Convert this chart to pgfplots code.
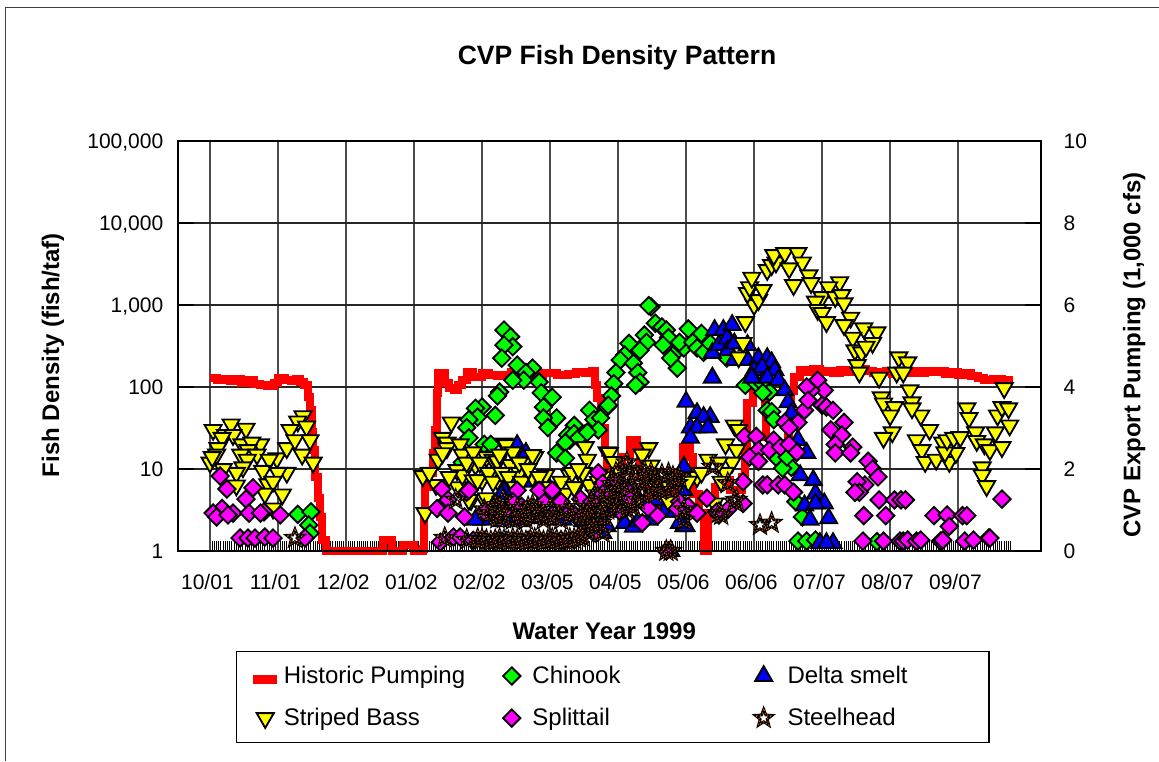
\documentclass[border=0pt]{standalone}
\usepackage{fontspec}
\setmainfont{Liberation Sans}
\usepackage{pgfplots}
\pgfplotsset{compat=1.18}
\usetikzlibrary{plotmarks}
% 1 px of the reference = 0.75pt
\definecolor{xlgreen}{RGB}{0,255,0}
\definecolor{xlblue}{RGB}{0,0,255}
\definecolor{xlyellow}{RGB}{255,255,0}
\definecolor{xlpink}{RGB}{255,0,255}
\definecolor{xlbrown}{RGB}{225,95,10}
\newcommand{\starpath}{%
  \pgfpathmoveto{\pgfqpointpolar{90}{6.6pt}}%
  \pgfpathlineto{\pgfqpointpolar{126}{2.8pt}}%
  \pgfpathlineto{\pgfqpointpolar{162}{6.6pt}}%
  \pgfpathlineto{\pgfqpointpolar{198}{2.8pt}}%
  \pgfpathlineto{\pgfqpointpolar{234}{6.6pt}}%
  \pgfpathlineto{\pgfqpointpolar{270}{2.8pt}}%
  \pgfpathlineto{\pgfqpointpolar{306}{6.6pt}}%
  \pgfpathlineto{\pgfqpointpolar{342}{2.8pt}}%
  \pgfpathlineto{\pgfqpointpolar{18}{6.6pt}}%
  \pgfpathlineto{\pgfqpointpolar{54}{2.8pt}}%
  \pgfpathclose}
\pgfdeclareplotmark{xlstar}{%
  \pgfscope
  \pgfsetdash{}{0pt}\pgfsetlinewidth{2.1pt}\pgfsetstrokecolor{black}%
  \starpath\pgfusepathqstroke
  \endpgfscope
  \pgfscope
  \pgfsetlinewidth{0.7pt}\pgfsetstrokecolor{xlbrown}%
  \pgfsetdash{{0.9pt}{1.6pt}}{0pt}%
  \starpath\pgfusepathqstroke
  \endpgfscope}
\newcommand{\tickfont}{\fontsize{15.75}{18}\selectfont}
\newcommand{\labfont}{\fontsize{18}{22}\selectfont\bfseries}
\pgfplotsset{
  common/.style={
    scale only axis, width=647.25pt, height=307.5pt, at={(133.5pt,157.5pt)}, anchor=south west,
    xmin=-14.6, xmax=378.8, clip=false,
    axis line style={line width=0.9pt},
    tick label style={font=\tickfont},
  },
  bass/.style={only marks, mark=triangle*, mark size=7.4pt,
    mark options={fill=xlyellow, draw=black, line width=1.4pt, rotate=180}},
  smelt/.style={only marks, mark=triangle*, mark size=7.4pt,
    mark options={fill=xlblue, draw=black, line width=1.4pt}},
  chin/.style={only marks, mark=square*, mark size=4.6pt,
    mark options={fill=xlgreen, draw=black, line width=1.4pt, rotate=45}},
  split/.style={only marks, mark=square*, mark size=4.6pt,
    mark options={fill=xlpink, draw=black, line width=1.4pt, rotate=45}},
  steel/.style={only marks, mark=xlstar},
}
\begin{document}
\begin{tikzpicture}
\path[use as bounding box] (0,0) rectangle (869.25pt,570.75pt);
\draw[line width=0.8pt, black!75] (4.1pt,0pt) -- (4.1pt,565.4pt) -- (869.25pt,565.4pt);

% right axis: pumping, grid and the daily ticks
\begin{axis}[common,
  ymin=0, ymax=10,
  xtick={0,31,...,341},
  xticklabels={10/01,11/01,12/02,01/02,02/02,03/05,04/05,05/06,06/06,07/07,08/07,09/07},
  minor xtick={0,1,...,365},
  xtick pos=bottom,
  tick align=inside,
  major tick length=12pt,
  minor tick length=7.5pt,
  minor x tick style={black, line width=0.75pt},
  y tick style={black, line width=0.9pt},
  x tick style={black!70, line width=0.9pt},
  xticklabel style={yshift=-14pt, xshift=-2pt},
  grid=major,
  x grid style={black!70, line width=0.9pt},
  y grid style={black!85, line width=0.8pt},
  ytick={0,2,4,6,8,10},
  yticklabels={0,2,4,6,8,10},
  yticklabel pos=right,
  yticklabel style={xshift=13.5pt, text height=11.3pt, text depth=0pt},
  ylabel={CVP Export Pumping (1,000 cfs)},
  ylabel style={font=\labfont, at={(axis description cs:1.108,0.478)}, anchor=center, rotate=0},
]
\addplot[red, line width=6pt, const plot, line join=miter] table {
0 4.22
3 4.16
6 4.2
9 4.14
11 4.2
14 4.1
17 4.16
20 4.08
23 4.04
26 4.02
29 4.1
31 4.22
34 4.18
37 4.14
39 4.2
41 4.12
43 4.06
44.5 3.76
45.5 3.44
46.5 2.9
47 2.46
48 1.8
49 1.3
50 0.83
51 0.27
53 0
60 0
70 0
78 0
79 0.27
83 0
88 0.15
93 0
97 0.05
97.5 0.93
98 1.56
100 1.9
101.6 2.4
102.5 2.95
103.5 3.85
104 4.34
106 4.34
107 4.1
109 3.98
111 3.93
113 4.05
115 4.17
117 4.37
120 4.24
124 4.34
127 4.3
131 4.26
134 4.3
137 4.36
142 4.28
147 4.3
152 4.34
158 4.3
163 4.32
167 4.37
171 4.34
174 4.4
175.5 4.05
176.5 3.73
178 3.0
180 2.4
181 1.9
184 1.44
186 1.5
188 2.3
191.5 2.7
194.6 2.54
196 1.8
199 1.2
203 1.0
207 1.0
208 1.4
210 1.56
212 1.2
213 1.6
215.6 2.54
219 2.3
220 1.4
223 0.93
225 0
226 0
227 0.93
230 1.56
231.6 1.73
237 1.49
242.5 1.8
244 2.54
245 3.6
247.6 3.85
252 3.85
253 3.6
253.5 2.78
256.6 2.63
263.5 2.78
264 3.27
265 3.9
266 4.24
269 4.41
272 4.36
275 4.43
278 4.36
281 4.4
284 4.34
287 4.42
290 4.36
293 4.4
296 4.44
299 4.38
302 4.34
305 4.36
308 4.38
311 4.32
314 4.36
317 4.34
320 4.38
323 4.34
326 4.4
329 4.36
332 4.38
335 4.32
338 4.36
341 4.3
344 4.34
347 4.26
350 4.22
353 4.18
357 4.2
361 4.16
364 4.14
366 4.14
};
\end{axis}

% left axis: fish densities
\begin{axis}[common,
  ymode=log, ymin=1, ymax=100000,
  xtick=\empty,
  ytick={1,10,100,1000,10000,100000},
  yticklabels={1,10,100,{1,000},{10,000},{100,000}},
  major tick length=0pt,
  minor tick length=0pt,
  yminorticks=false,
  yticklabel style={xshift=-7.5pt, text height=11.3pt, text depth=0pt},
  title={CVP Fish Density Pattern},
  title style={font=\fontsize{19.9}{24}\selectfont\bfseries, at={(axis description cs:0.5087,1.183)}, anchor=center},
  xlabel={Water Year 1999},
  xlabel style={font=\labfont, at={(axis description cs:0.494,-0.195)}, anchor=center},
  ylabel={Fish Density (fish/taf)},
  ylabel style={font=\labfont, at={(axis description cs:-0.1448,0.478)}, anchor=center, rotate=0},
  legend columns=3,
  legend cell align=left,
  legend style={at={(axis description cs:0.0672,-0.244)}, anchor=north west,
    draw=black, line width=0.9pt, font=\fontsize{18}{21}\selectfont,
    inner xsep=12.5pt, inner ysep=9pt, row sep=13pt},
]
\addlegendimage{legend image code/.code={\fill[red] (0pt,-5.5pt) rectangle (17pt,0.5pt);}}
\addlegendentry{\hspace{3pt}\makebox[162.5pt][l]{Historic Pumping}}

\addplot[chin] table {
40 2.8
46 3
45 2.07
45.6 1.65
134 495
137 410
138 310
134 325
133 225
140 185
147 170
144 150
143 121
138 121
150 115
151 85
156 75
152 57
158 42
152 42
154 32
132 87
131 78
130 45
124 57
121 55
122 43
118 40
117 32
118 24
115 12
125 20
128 20
166 34
163 26
164 22.5
162 21
158 15.7
162 13.5
166 27
171 27
168 24
173 52
175 40
178 42
181 57
177 30
172 28
201 950
200 980
203 600
206 540
208 495
209 400
206.5 325
211 245
213 170
210 225
216 300
218 510
214 350
220 350
222 300
224 450
225 265
228 340
235.6 225
198 430
199 350
196 280
191 340
189 245
187 213
193 195
195 150
185 150
196 115
194 105
184 110
183 78
181.5 60
244 105
254 91
249 110
252 110
254 52
255 87
252 85
256 50
257 40
265 10.5
261 10.2
258 14
263 14
267 4
270 2.6
268 1.32
272 1.32
276 1.36
304 1.3
};
\addlegendentry{\hspace{7pt}\makebox[165pt][l]{Chinook}}

\addplot[smelt] table {
229 130
217 66
222 48
228 43
225 43
219 32
222 32
227 32
219 24
230 495
234 495
238 570
229 260
232 325
235.6 390
236 280
239 340
245 325
239 213
245 213
250 225
254 225
256 200
248 160
251.6 175
257.5 160
247 130
254 130
259 121
262 91
263.5 65
265 48
268 22.5
272 15.7
269 8.4
275 7.3
276 5
280 3.8
271 3.6
276 3.8
273.5 2.4
282 2.5
278 1.25
284 1.25
281 1.25
140 19.6
144 15.7
134 5.5
124 2.4
121 2.4
133 4.9
138 7.5
144 7
133 2.3
161 2.4
216 10.6
216 5.5
216 2
203 4.2
200 2.4
189 2.2
193 1.97
179 1.66
210 1
217 2
153 7
183 3
130 3
135 2.6
142 2.3
150 2.5
155 2.6
158 2.4
170 2.3
175 2.2
181 2
185 3
195 2.3
205 5
207 3
212 3
214 2.2
196 4
};
\addlegendentry{\hspace{9.5pt}\makebox[136.5pt][l]{Delta smelt}}

\addplot[bass] table {
1.4 30
9.6 35
16.4 31
7 26
10.5 26
5.5 24
3.6 18
14.6 20
23 20
19 21
17.3 17
0 12
3 15
1 14
14 15
21.4 15
17 13
15 10.5
30.5 13.5
27 13
35 18
24 9.5
35 9
31 9
12 9
6 10
26.4 6.5
28.7 7
12 6.3
25 5
33 4.9
28.7 3.3
42.4 44
40 38
44 33
36.5 30
38.7 22.5
45.6 22.5
42 15
47 12
110 37
106 24
108 21
108 18
104 13
106 15.6
114 20
115 15
97 8.2
98 2.9
103 6.4
112.6 9.7
113 6
115 8.4
121 11.2
120 7.3
124 7.3
119 4.2
125 4.2
126 14
129 13
131 7.3
128.5 9
134 20.5
131 12
137 11.2
139 16
143 12
141 9
148 14
153 8.4
147 8
164 8.4
169 8.4
167 6
171 18.5
172 13
181 16
173 6.4
181 5
135 19.6
138 16
147 14.8
131 12.4
141 12
118 11.8
122 7.3
126 4.4
118 4.2
182 15.7
184 12.2
165 9
170 9
200 18
197 15
201 11
222 8
227 13
235 20
240 17
239 34
241 30
230 3.8
238 12
235 9
100 9
109 8
117 12
120 16
123 12
127 9
129 7
132 15
133 9
136 8
139 6
142 7
145 10
150 8
152 6
155 6
158 5
160 7
162 5
166 6
168 10
175 4
177 7
179 8
180 4
185 6
187 9
190 5
192 5
194 4
203 6
206 6
209 4
212 8
218 7
224 9
232 12
233 7
244 620
243 345
241 230
248 1000
250 1150
245 1400
246 1650
252 1520
247 2150
254 2670
256 3070
258 3300
257 4060
262 4300
268 4300
270 3300
264 2800
266 1750
273 2300
274 1850
287 1900
282 1650
279 1250
285 1250
288 1320
289 1050
276 1100
277 870
279 800
281 620
292 700
289 570
298 520
304 465
293 400
302 345
294 280
297 265
299 310
295 185
296 150
305 130
314 230
318 200
313 150
316 150
306 75
307 63
312 57
310 45
311 28
307 24
319 91
320 65
324 45
320 55
328 30
322 22.5
324.5 17
326 12.2
331 13
334 21
337 12.2
340 15.7
335 16
336 22.5
339 24
342 24.5
345 55
346 42
349 28
349.5 22
353 20
352 10.5
352 8.4
354 6.2
358 28
355.5 17
361 18.5
359 45
361 57
364 55
364.5 34
362 97
};
\addlegendentry{\hspace{3pt}Striped Bass}

\addplot[split] table {
4.6 8.2
7.7 5.7
19.6 5.9
16.4 4.3
5.5 3.3
1.4 2.9
3 2.6
10.5 2.9
8.2 2.75
17.8 2.9
24.6 3
23 2.9
32 2.75
13.7 1.44
17.3 1.44
20.5 1.44
25 1.48
28.7 1.44
43.3 1.44
105.7 5.7
108.5 4.2
103.5 3.3
108.5 2.9
117 5.2
116 2.6
105 1.28
111 1.48
114 1.48
118 5.5
140 5.5
138 4
140 2.75
152 4
150 5.5
156 5.5
160 4
156 2.75
169 4.3
177 9
166 1.36
162 1.3
120 1.35
125 1.35
130 1.35
135 1.35
140 1.35
145 1.35
150 1.35
155 1.35
160 1.35
179 6.7
179 5
191 4.4
186 7
197 2.2
175 1.66
172 2.9
125 3
129 2.8
134 3
142 3.5
147 3
150 2.8
164 3
166 2.8
174 4
183 5
187 3
189 6
200 3.3
204 2.7
214 4
218 3.5
213 3.3
222 2.9
226.5 4.4
236 3.2
232 2.75
243 3.8
231 3
208 1
243.6 25
249 25
250 17
246 14
250 12.4
243 7
252 6.4
254 6.4
257 22.5
255 17
260 18.5
264 20
267.5 16
268 37
271 52
262 37
264 32
259 6.4
262 6.4
266 5.2
277 121
280 91
274 91
272 100
272.6 69
279 60
281 57
284 52
283 30
289 37
288 26
293 18.5
285 20
285 15.7
292 15.7
300 12.4
302 10
304.5 8
298.5 6.4
295 7
296 5.2
294 5.2
305 4.2
312 4.2
315 4.2
317 4.2
298 2.7
308 2.7
330 2.7
336 2.75
343 2.7
345 2.7
337 2
361 4.3
297.6 1.32
307 1.32
314.5 1.32
316 1.32
318 1.36
322 1.32
324 1.36
333 1.32
334 1.36
344 1.32
348 1.36
355 1.44
355.5 1.44
};
\addlegendentry{\hspace{7pt}Splittail}

\addplot[steel] table {
190 12
189 8
211 8
204 7.3
199 8
200.5 6
196 6.7
213 6.7
187 3.4
193 3.4
184 4.2
190 3.2
195 4.2
216 3.2
216 2.4
197 5
205 5.5
176 5
173 3.4
177 2.9
172 2.2
173 1.66
179 1.66
170 1.48
182 3.8
181 5
229 10.6
236 6.7
240 4.2
232 2.9
233 2.75
239 4
250.7 2.07
256 2.2
38.7 1.44
107 1.44
112 4.2
117 1.36
133.5 4.2
145 3.4
132 2.9
132 3.4
136 3
144.5 2.9
149 3.2
131 2.5
138 2.4
144 2.4
152 2.4
160 2.4
164 2.7
169 2.7
170 2.2
172 1.8
175 3.2
122 1.4
124 1.38
126 1.35
128 1.3
130 1.35
132 1.4
134 1.35
136 1.3
138 1.4
140 1.35
142 1.35
144 1.3
146 1.35
148 1.4
150 1.35
152 1.3
154 1.35
156 1.4
158 1.35
160 1.3
162 1.35
164 1.4
166 1.4
168 1.45
125 3.2
128 2.9
130 3.6
134 2.5
140 3.3
142 2.7
147 3.6
151 2.8
155 3.3
157 2.6
162 3.1
167 3.4
174 2.4
176 1.9
178 2.2
180 2.6
181 3.2
183 6.5
185 9
186 5.5
188 6.6
191 10
192 6
194 8.5
198 9.5
201 9
203 5
206 8.5
207 6.4
209 8.8
211 5.5
214 8
208 1
210 1
};
\addlegendentry{\hspace{9.5pt}Steelhead}
\end{axis}
\end{tikzpicture}
\end{document}
